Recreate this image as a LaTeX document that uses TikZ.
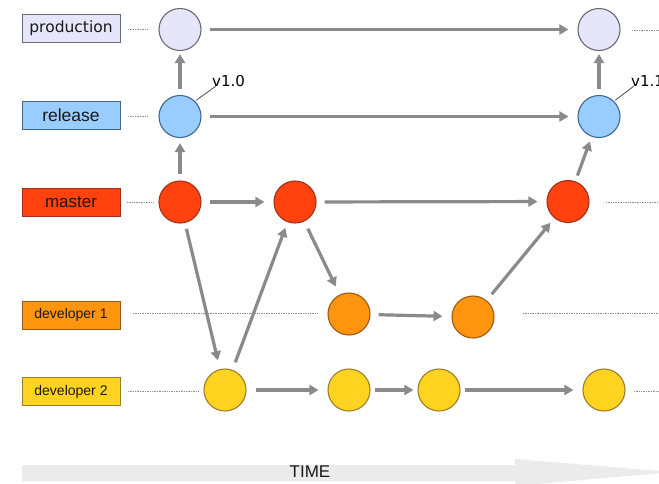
\documentclass[tikz,border=0pt]{standalone}
\usepackage{fontspec}
\setmainfont{Liberation Sans}
\newfontfamily\djv{DejaVu Sans}
\usetikzlibrary{arrows.meta,calc}
\definecolor{prodfill}{HTML}{E6E6FA}
\definecolor{prodline}{HTML}{6A6A72}
\definecolor{relfill}{HTML}{99CCFF}
\definecolor{relline}{HTML}{40688F}
\definecolor{masfill}{HTML}{FF420E}
\definecolor{masline}{HTML}{A3301A}
\definecolor{devafill}{HTML}{FF950E}
\definecolor{devaline}{HTML}{9A5A1A}
\definecolor{devbfill}{HTML}{FFD320}
\definecolor{devbline}{HTML}{9A7F2A}
\definecolor{arrowgray}{HTML}{8A8A8A}
\definecolor{timegray}{HTML}{EBEBEB}
\tikzset{
  lbl/.style={draw, line width=0.9pt, minimum width=98pt, minimum height=28pt, inner sep=0pt, text=black!90},
  commit/.style={circle, draw, line width=1.1pt, minimum size=42pt, inner sep=0pt},
  flow/.style={draw=arrowgray, line width=3.2pt, -{Triangle[length=9pt,width=10pt]}, shorten <=8pt, shorten >=9pt},
  life/.style={draw=black!45, line width=0.7pt, densely dotted},
  tagline/.style={draw=black!70, line width=0.8pt}
}
\begin{document}
\begin{tikzpicture}[x=1pt,y=-1pt]
\useasboundingbox (0,0) rectangle (659,483);

% time arrow
\fill[timegray] (22,465) -- (515,465) -- (515,459) -- (672,472) -- (515,486) -- (515,481) -- (22,481) -- cycle;
\node[font=\fontsize{17}{19}\selectfont, text=black!90] (time) at (310,472) {TIME};

% labels
\node[lbl, fill=prodfill, draw=prodline, font=\djv\fontsize{15.5}{17}\selectfont] (lprod) at (71,28.5) {production};
\node[lbl, fill=relfill, draw=relline, font=\fontsize{17.5}{19}\selectfont] (lrel) at (71,115.5) {release};
\node[lbl, fill=masfill, draw=masline, font=\fontsize{17}{19}\selectfont] (lmas) at (71,202.5) {master};
\node[lbl, fill=devafill, draw=devaline, font=\fontsize{14}{16}\selectfont] (ldeva) at (71,315) {developer 1};
\node[lbl, fill=devbfill, draw=devbline, font=\fontsize{14}{16}\selectfont] (ldevb) at (71,391.5) {developer 2};

% commits
\node[commit, fill=prodfill, draw=prodline] (p1) at (180,29.5) {};
\node[commit, fill=prodfill, draw=prodline] (p2) at (599,29.5) {};
\node[commit, fill=relfill, draw=relline] (r1) at (180,116.5) {};
\node[commit, fill=relfill, draw=relline] (r2) at (599,116.5) {};
\node[commit, fill=masfill, draw=masline] (m1) at (180,202) {};
\node[commit, fill=masfill, draw=masline] (m2) at (295,202) {};
\node[commit, fill=masfill, draw=masline] (m3) at (568,201.5) {};
\node[commit, fill=devafill, draw=devaline] (a1) at (349,314) {};
\node[commit, fill=devafill, draw=devaline] (a2) at (473,317) {};
\node[commit, fill=devbfill, draw=devbline] (b1) at (225,390) {};
\node[commit, fill=devbfill, draw=devbline] (b2) at (349,390) {};
\node[commit, fill=devbfill, draw=devbline] (b3) at (439,390) {};
\node[commit, fill=devbfill, draw=devbline] (b4) at (604,390) {};

% lifelines
\coordinate (lpA) at (128,29.5); \coordinate (lpB) at (148,29.5);
\coordinate (lrA) at (128,116); \coordinate (lrB) at (148,116);
\coordinate (lmA) at (127,202); \coordinate (lmB) at (154,202);
\coordinate (laA) at (133,313); \coordinate (laB) at (317,313);
\coordinate (lbA) at (128,391); \coordinate (lbB) at (199,391);
\coordinate (rpA) at (632,30); \coordinate (rpB) at (659,30);
\coordinate (rmA) at (606,202); \coordinate (rmB) at (659,202);
\coordinate (raA) at (523,313); \coordinate (raB) at (659,313);
\coordinate (rbA) at (634,391); \coordinate (rbB) at (659,391);
\foreach \a/\b in {lpA/lpB, lrA/lrB, lmA/lmB, laA/laB, lbA/lbB, rpA/rpB, rmA/rmB, raA/raB, rbA/rbB}
  \draw[life] (\a) -- (\b);

% tags
\node[font=\djv\fontsize{15}{17}\selectfont, anchor=south west, inner sep=0pt] (v10) at (212,87) {v1.0};
\node[font=\djv\fontsize{15}{17}\selectfont, anchor=south west, inner sep=0pt] (v11) at (631,87) {v1.1};
\coordinate (t10) at (216,86);
\coordinate (t11) at (634,86);
\draw[tagline] (r1.north east) ++(1,-1) -- (t10);
\draw[tagline] (r2.north east) ++(1,-1) -- (t11);

% flows
\draw[flow] (p1) -- (p2);
\draw[flow] (r1) -- (r2);
\draw[flow, shorten <=6pt, shorten >=5pt] (m1) -- (r1);
\draw[flow, shorten <=6pt, shorten >=3pt] (r1) -- (p1);
\draw[flow, shorten <=6pt, shorten >=3pt] (r2) -- (p2);
\draw[flow, shorten <=6pt, shorten >=5pt] (m3) -- (r2);
\draw[flow] (m1) -- (m2);
\draw[flow] (m2) -- (m3);
\draw[flow, shorten <=6pt] (m1) -- (b1);
\draw[flow, shorten >=6pt] (b1) -- (m2);
\draw[flow] (m2) -- (a1);
\draw[flow] (a1) -- (a2);
\draw[flow, shorten >=6pt] (a2) -- (m3);
\draw[flow, shorten <=9pt] (b1) -- (b2);
\draw[flow, shorten <=4pt, shorten >=4pt] (b2) -- (b3);
\draw[flow, shorten <=4pt] (b3) -- (b4);
\end{tikzpicture}
\end{document}
